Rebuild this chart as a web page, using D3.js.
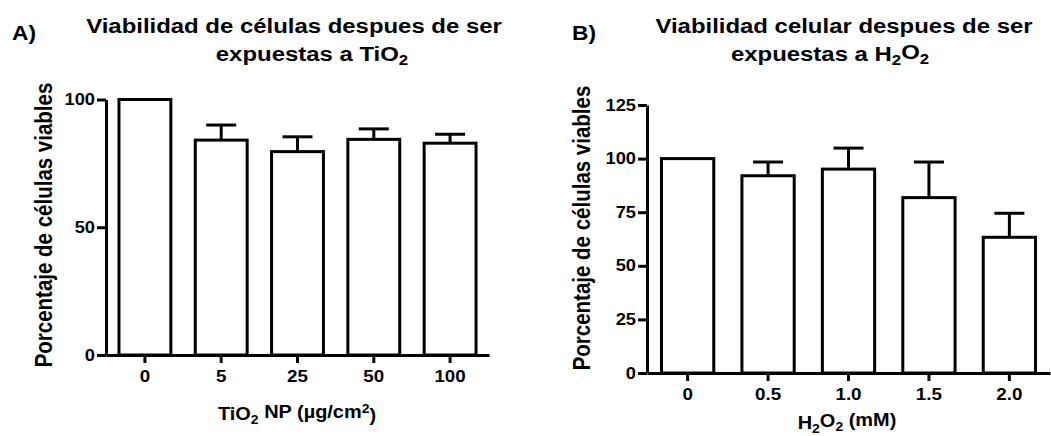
<!DOCTYPE html>
<html>
<head>
<meta charset="utf-8">
<script src="https://cdn.jsdelivr.net/npm/d3@7"></script>
<style>
  body { margin: 0; background: #fff; }
  text { font-family: "Liberation Sans", Arial, Helvetica, sans-serif; font-weight: bold; fill: #000; }
</style>
</head>
<body>
<script>
// Two bar charts (mean + upper SD), GraphPad style

var width = 1051;
var height = 436;
var SX = 1.14; // the source picture is a bit stretched sideways

// A) TiO2 nanoparticles
var doseTiO2 = ["0", "5", "25", "50", "100"];
var viabTiO2 = [100, 84.1, 79.6, 84.4, 82.9];
var errTiO2  = [0, 5.9, 5.8, 4.1, 3.5];
var yTicksTiO2 = [0, 50, 100];

// B) H2O2
var doseH2O2 = ["0", "0.5", "1.0", "1.5", "2.0"];
var viabH2O2 = [100, 92.0, 95.1, 81.8, 63.3];
var errH2O2  = [0, 6.4, 9.8, 16.6, 11.2];
var yTicksH2O2 = [0, 25, 50, 75, 100, 125];

var svg = d3.select("body")
            .append("svg")
            .attr("width", width)
            .attr("height", height);

// horizontal text, stretched like the source
function label(x, y, size, anchor) {
  return svg.append("text")
            .attr("transform", "translate(" + x + "," + y + ") scale(" + SX + ",1)")
            .attr("font-size", size + "px")
            .attr("text-anchor", anchor || "middle");
}

function sub(t, main, s, dy) {
  t.append("tspan").text(main);
  t.append("tspan").attr("font-size", "70%").attr("dy", dy).text(s);
}

function panel(p) {
  var xScale = d3.scaleBand()
                 .domain(p.cats)
                 .range([p.x0, p.x1])
                 .paddingInner(p.padIn)
                 .paddingOuter(p.padOut);

  var yScale = d3.scaleLinear()
                 .domain([0, p.yMax])
                 .range([p.y0, p.yTop]);

  var g = svg.append("g");
  var data = p.cats.map(function(c, i) { return { cat: c, v: p.vals[i], e: p.errs[i] }; });

  // error bars (drawn under the bars)
  var eb = g.selectAll(".err")
            .data(data.filter(function(d) { return d.e > 0; }))
            .enter()
            .append("g")
            .attr("class", "err")
            .attr("stroke", "#000")
            .attr("stroke-width", 3);
  eb.append("line")
    .attr("x1", function(d) { return xScale(d.cat) + xScale.bandwidth() / 2; })
    .attr("x2", function(d) { return xScale(d.cat) + xScale.bandwidth() / 2; })
    .attr("y1", function(d) { return yScale(d.v); })
    .attr("y2", function(d) { return yScale(d.v + d.e); });
  eb.append("line")
    .attr("x1", function(d) { return xScale(d.cat) + xScale.bandwidth() / 2 - 15; })
    .attr("x2", function(d) { return xScale(d.cat) + xScale.bandwidth() / 2 + 15; })
    .attr("y1", function(d) { return yScale(d.v + d.e); })
    .attr("y2", function(d) { return yScale(d.v + d.e); });

  g.selectAll("rect")
   .data(data)
   .enter()
   .append("rect")
   .attr("x", function(d) { return xScale(d.cat); })
   .attr("y", function(d) { return yScale(d.v); })
   .attr("width", xScale.bandwidth())
   .attr("height", function(d) { return p.y0 - yScale(d.v); })
   .attr("fill", "#fff")
   .attr("stroke", "#000")
   .attr("stroke-width", 3);

  // axes
  var yAxis = d3.axisLeft(yScale)
                .tickValues(p.yTicks)
                .tickSize(9)
                .tickSizeOuter(0)
                .tickPadding(2);
  var xAxis = d3.axisBottom(xScale)
                .tickSize(8)
                .tickSizeOuter(0);

  var ya = svg.append("g")
              .attr("transform", "translate(" + p.x0 + ",0)")
              .call(yAxis);
  var xa = svg.append("g")
              .attr("transform", "translate(0," + p.y0 + ")")
              .call(xAxis);

  [ya, xa].forEach(function(a) {
    a.selectAll("path, line").attr("stroke", "#000").attr("stroke-width", 3);
    a.attr("font-family", null).attr("font-size", null);
  });

  ya.selectAll(".tick text")
    .attr("font-size", "16px")
    .attr("transform", function() {
      var x = +d3.select(this).attr("x");
      return "translate(" + x + ",0) scale(" + SX + ",1)";
    })
    .attr("x", 0);

  xa.selectAll(".tick text")
    .attr("font-size", "16.5px")
    .attr("dy", null)
    .attr("y", 0)
    .attr("transform", "translate(0,27) scale(" + SX + ",1)");

  // titles
  label(p.letterX, 40, 20, "start").text(p.letter);
  label(p.t1x, 33, 21).text(p.title1);
  var t2 = label(p.t2x, 61, 21);
  p.title2(t2);

  var xt = label(p.xtx, p.xty, 17.5);
  p.xTitle(xt);

  svg.append("text")
     .attr("transform", "translate(" + p.ylx + "," + p.yly + ") scale(" + SX + ",1) rotate(-90)")
     .attr("font-size", "20.5px")
     .attr("text-anchor", "middle")
     .text("Porcentaje de células viables");
}

panel({
  cats: doseTiO2, vals: viabTiO2, errs: errTiO2, yTicks: yTicksTiO2, yMax: 100,
  x0: 106, x1: 489, y0: 355, yTop: 99.5, padIn: 0.32, padOut: 0.17,
  letter: "A)", letterX: 12,
  title1: "Viabilidad de células despues de ser", t1x: 294,
  title2: function(t) {
    t.append("tspan").text("expuestas a TiO");
    t.append("tspan").attr("font-size", "70%").attr("dy", "0.3em").text("2");
  },
  t2x: 312,
  xTitle: function(t) {
    t.append("tspan").text("TiO");
    t.append("tspan").attr("font-size", "70%").attr("dy", "0.3em").text("2");
    t.append("tspan").attr("dy", "-0.3em").text(" NP (\u00b5g/cm");
    t.append("tspan").attr("font-size", "70%").attr("dy", "-0.45em").text("2");
    t.append("tspan").attr("dy", "0.45em").text(")");
  },
  xtx: 297, xty: 420,
  ylx: 52, yly: 225
});

panel({
  cats: doseH2O2, vals: viabH2O2, errs: errH2O2, yTicks: yTicksH2O2, yMax: 125,
  x0: 647, x1: 1050, y0: 373, yTop: 105, padIn: 0.35, padOut: 0.18,
  letter: "B)", letterX: 572,
  title1: "Viabilidad celular despues de ser", t1x: 844,
  title2: function(t) {
    t.append("tspan").text("expuestas a H");
    t.append("tspan").attr("font-size", "70%").attr("dy", "0.3em").text("2");
    t.append("tspan").attr("dy", "-0.3em").text("O");
    t.append("tspan").attr("font-size", "70%").attr("dy", "0.3em").text("2");
  },
  t2x: 830,
  xTitle: function(t) {
    t.append("tspan").text("H");
    t.append("tspan").attr("font-size", "70%").attr("dy", "0.3em").text("2");
    t.append("tspan").attr("dy", "-0.3em").text("O");
    t.append("tspan").attr("font-size", "70%").attr("dy", "0.3em").text("2");
    t.append("tspan").attr("dy", "-0.3em").text(" (mM)");
  },
  xtx: 847, xty: 429,
  ylx: 590, yly: 228
});
</script>
</body>
</html>
